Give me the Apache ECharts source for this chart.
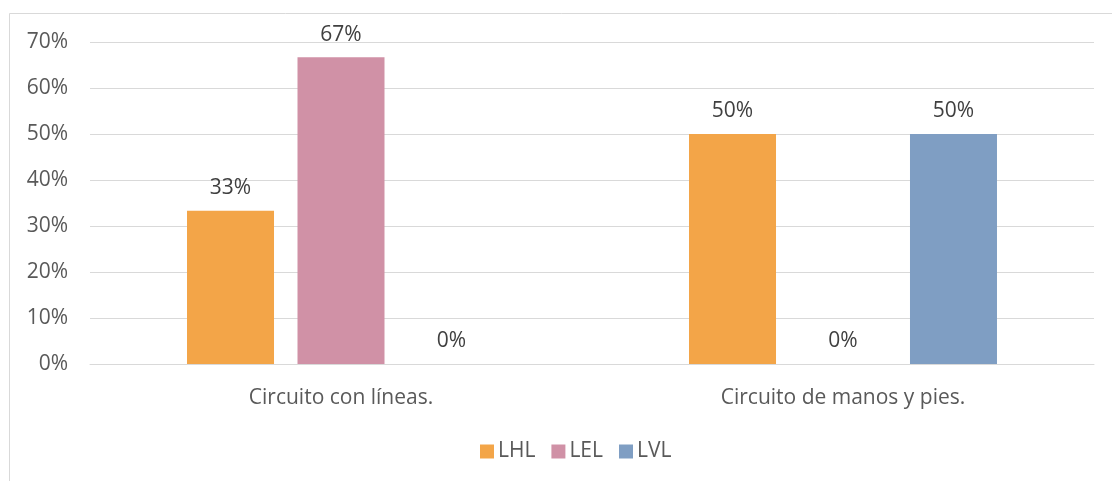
<!DOCTYPE html>
<html>
<head>
<meta charset="utf-8">
<script src="https://cdn.jsdelivr.net/npm/echarts@6/dist/echarts.min.js"></script>
<style>
  html, body { margin: 0; padding: 0; background: #fff; }
  #chart { width: 1112px; height: 481px; }
</style>
</head>
<body>
<div id="chart"></div>
<script>
// Circuit categories and the share of each profile (percent)
const categories = ['Circuito con líneas.', 'Circuito de manos y pies.'];
const seriesNames = ['LHL', 'LEL', 'LVL'];
const lhl = [33.33, 50];
const lel = [66.67, 0];
const lvl = [0, 50];
const yTicks = [0, 10, 20, 30, 40, 50, 60, 70];

const colors = ['#F3A548', '#D091A6', '#7F9EC3'];
const font = '"Open Sans", "Noto Sans", sans-serif';
const fontSize = 21;

const chart = echarts.init(document.getElementById('chart'), null, { renderer: 'canvas' });

function makeSeries(name, data, color) {
  return {
    name: name,
    type: 'bar',
    data: data,
    barWidth: 87,
    barGap: '27%',
    itemStyle: { color: color },
    label: {
      show: true,
      position: 'top',
      distance: 12,
      formatter: p => Math.round(p.value) + '%',
      color: '#404040',
      fontSize: fontSize,
      fontFamily: font
    },
    emphasis: { disabled: true }
  };
}

chart.setOption({
  animation: false,
  backgroundColor: '#fff',
  color: colors,
  graphic: [{
    type: 'rect',
    shape: { x: 9.5, y: 13.5, width: 1200, height: 600 },
    style: { fill: 'none', stroke: '#D9D9D9', lineWidth: 1 },
    silent: true
  }],
  grid: { left: 90, right: 18, top: 42, bottom: 117, containLabel: false },
  legend: {
    data: seriesNames,
    bottom: 14,
    left: 475,
    itemWidth: 14,
    itemHeight: 14,
    itemGap: 16,
    icon: 'rect',
    textStyle: { color: '#595959', fontSize: fontSize, fontFamily: font, padding: [0, 0, 0, -1] }
  },
  xAxis: {
    type: 'category',
    data: categories,
    axisLine: { show: true, lineStyle: { color: '#D9D9D9', width: 1 } },
    axisTick: { show: false },
    axisLabel: { color: '#595959', fontSize: fontSize, fontFamily: font, margin: 24 }
  },
  yAxis: {
    type: 'value',
    min: yTicks[0],
    max: yTicks[yTicks.length - 1],
    interval: 10,
    axisLine: { show: false },
    axisTick: { show: false },
    splitLine: { lineStyle: { color: '#D9D9D9', width: 1 } },
    axisLabel: {
      color: '#595959',
      fontSize: fontSize,
      fontFamily: font,
      margin: 22,
      padding: [4, 0, 0, 0],
      formatter: v => v + '%'
    }
  },
  series: [
    makeSeries(seriesNames[0], lhl, colors[0]),
    makeSeries(seriesNames[1], lel, colors[1]),
    makeSeries(seriesNames[2], lvl, colors[2])
  ]
});
</script>
</body>
</html>
